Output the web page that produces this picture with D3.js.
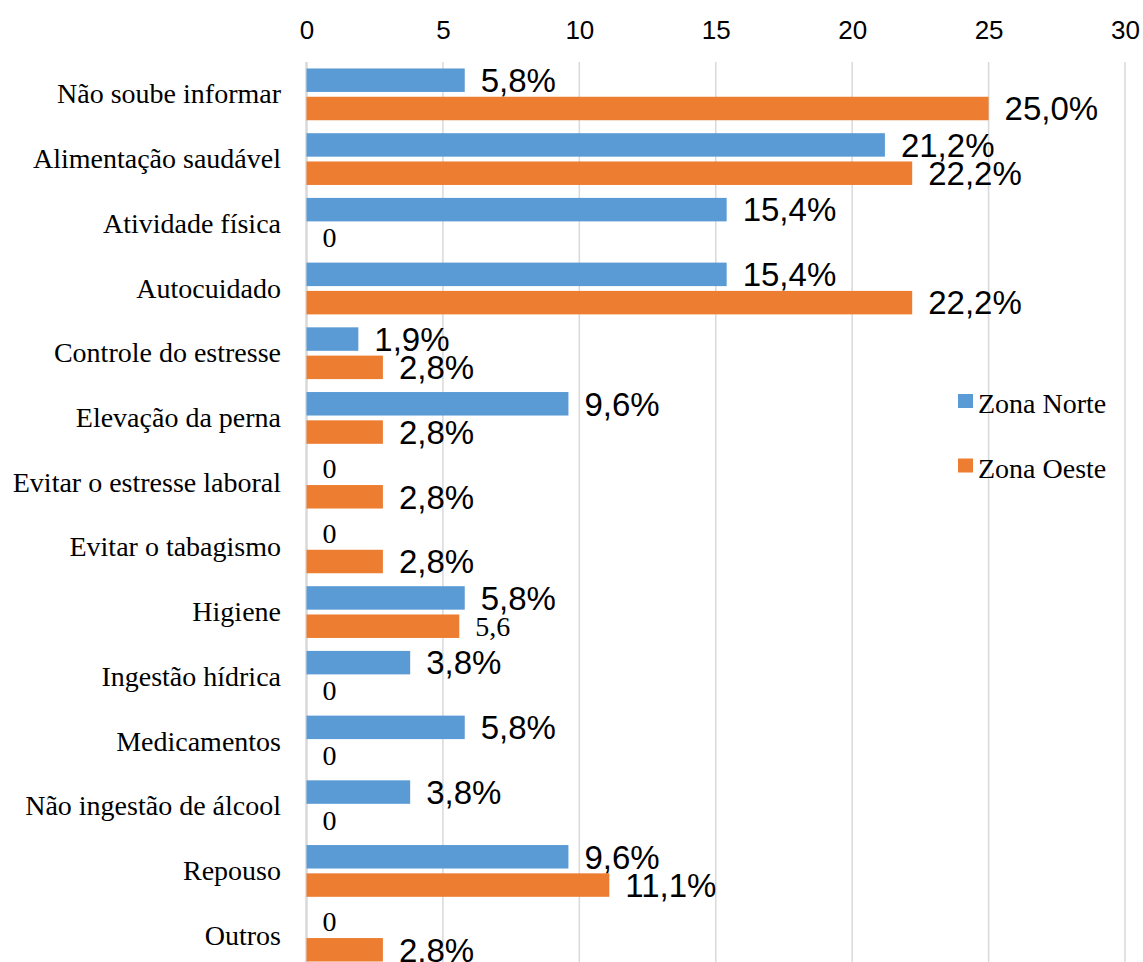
<!DOCTYPE html>
<html>
<head>
<meta charset="utf-8">
<script src="https://cdn.jsdelivr.net/npm/d3@7"></script>
<style>
  body { margin: 0; background: #fff; }
  .tick text { font-family: Arial, "Liberation Sans", sans-serif; }
</style>
</head>
<body>
<div class="svg_area"></div>
<script>
// categories and values (percent)
var categories = [
  "Não soube informar", "Alimentação saudável", "Atividade física", "Autocuidado",
  "Controle do estresse", "Elevação da perna", "Evitar o estresse laboral",
  "Evitar o tabagismo", "Higiene", "Ingestão hídrica", "Medicamentos",
  "Não ingestão de álcool", "Repouso", "Outros"
];
var seriesNames = ["Zona Norte", "Zona Oeste"];
var norte = [5.8, 21.2, 15.4, 15.4, 1.9, 9.6, 0, 0, 5.8, 3.8, 5.8, 3.8, 9.6, 0];
var oeste = [25.0, 22.2, 0, 22.2, 2.8, 2.8, 2.8, 2.8, 5.6, 0, 0, 0, 11.1, 2.8];
var norteLabels = ["5,8%", "21,2%", "15,4%", "15,4%", "1,9%", "9,6%", "0", "0", "5,8%", "3,8%", "5,8%", "3,8%", "9,6%", "0"];
var oesteLabels = ["25,0%", "22,2%", "0", "22,2%", "2,8%", "2,8%", "2,8%", "2,8%", "5,6", "0", "0", "0", "11,1%", "2,8%"];
var xTicks = [0, 5, 10, 15, 20, 25, 30];
var colors = ["#5b9bd5", "#ed7d31"];

var svgWidth = 1143;
var svgHeight = 962;
var serif = "'Liberation Serif', 'Times New Roman', serif";
var sans = "Arial, 'Liberation Sans', sans-serif";

var svg = d3.select(".svg_area")
  .append("svg")
  .attr("width", svgWidth)
  .attr("height", svgHeight);

var xScale = d3.scaleLinear()
  .domain([0, 30])
  .range([306.5, 1125]);

var yScale = d3.scaleBand()
  .domain(categories)
  .range([62, 968])
  .paddingInner(0.2)
  .paddingOuter(0.1);

var ySub = d3.scaleBand()
  .domain(seriesNames)
  .range([0, yScale.bandwidth()])
  .paddingInner(0.17);

// gridlines
svg.append("g")
  .selectAll("line")
  .data(xTicks)
  .enter()
  .append("line")
  .attr("x1", d => xScale(d))
  .attr("x2", d => xScale(d))
  .attr("y1", 62)
  .attr("y2", svgHeight)
  .attr("stroke", "#d9d9d9")
  .attr("stroke-width", d => d === 0 ? 2.5 : 1.5);

// top axis labels
var topAxis = d3.axisTop(xScale)
  .tickValues(xTicks)
  .tickSize(0)
  .tickPadding(0);

var axisG = svg.append("g")
  .attr("transform", "translate(0, 38.5)")
  .call(topAxis);
axisG.select(".domain").remove();
axisG.selectAll("text")
  .attr("font-size", 26)
  .attr("fill", "#000")
  .attr("dy", 0);

// category labels
svg.append("g")
  .selectAll("text")
  .data(categories)
  .enter()
  .append("text")
  .attr("x", 281)
  .attr("y", d => yScale(d) + yScale.bandwidth() / 2 + 9)
  .attr("text-anchor", "end")
  .attr("font-family", serif)
  .attr("font-size", 28)
  .attr("fill", "#000")
  .text(d => d);

// bars + labels for each series
var seriesData = [norte, oeste];
var seriesLabels = [norteLabels, oesteLabels];

seriesNames.forEach(function(name, s) {
  var rows = categories.map(function(c, i) {
    return { cat: c, value: seriesData[s][i], label: seriesLabels[s][i] };
  });

  svg.append("g")
    .selectAll("rect")
    .data(rows)
    .enter()
    .append("rect")
    .attr("x", xScale(0))
    .attr("y", d => yScale(d.cat) + ySub(name))
    .attr("width", d => xScale(d.value) - xScale(0))
    .attr("height", ySub.bandwidth())
    .attr("fill", colors[s]);

  svg.append("g")
    .selectAll("text")
    .data(rows)
    .enter()
    .append("text")
    .attr("x", d => xScale(d.value) + 16)
    .attr("y", function(d) {
      var mid = yScale(d.cat) + ySub(name) + ySub.bandwidth() / 2;
      return d.label.indexOf("%") >= 0 ? mid + 11.8 : mid + 9.4;
    })
    .attr("font-family", d => d.label.indexOf("%") >= 0 ? sans : serif)
    .attr("font-size", d => d.label.indexOf("%") >= 0 ? 33 : 28)
    .attr("fill", "#000")
    .text(d => d.label);
});

// legend
var legend = svg.append("g")
  .selectAll("g")
  .data(seriesNames)
  .enter()
  .append("g")
  .attr("transform", (d, i) => `translate(958, ${394 + i * 64.5})`);

legend.append("rect")
  .attr("width", 15)
  .attr("height", 14)
  .attr("fill", (d, i) => colors[i]);

legend.append("text")
  .attr("x", 20)
  .attr("y", 19)
  .attr("font-family", serif)
  .attr("font-size", 28)
  .attr("fill", "#000")
  .text(d => d);
</script>
</body>
</html>
